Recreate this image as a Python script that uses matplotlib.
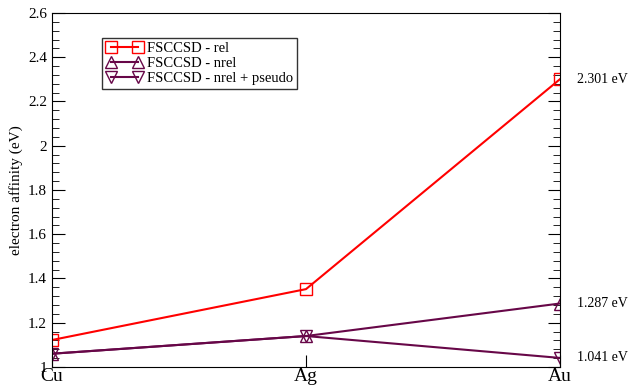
import matplotlib.pyplot as plt
from matplotlib.ticker import MultipleLocator, FuncFormatter

plt.rcParams['font.family'] = ['Liberation Serif', 'DejaVu Serif']

# data
metals = ["Cu", "Ag", "Au"]
rel = [1.122, 1.352, 2.301]
nrel = [1.060, 1.140, 1.287]
nrel_pseudo = [1.060, 1.140, 1.041]
labels = ["2.301 eV", "1.287 eV", "1.041 eV"]
label_vals = [2.301, 1.287, 1.041]

red = "#ff0000"
maroon = "#670748"

fig = plt.figure(figsize=(6.33, 3.89), dpi=100)
ax = fig.add_axes([52 / 633, 22 / 389, 508 / 633, 354 / 389])

x = range(len(metals))
ax.plot(x, rel, color=red, lw=1.5, marker="s", ms=8, mfc="none", mec=red, mew=1,
        label="FSCCSD - rel")
ax.plot(x, nrel, color=maroon, lw=1.5, marker="^", ms=9, mfc="none", mec=maroon, mew=1,
        label="FSCCSD - nrel")
ax.plot(x, nrel_pseudo, color=maroon, lw=1.5, marker="v", ms=9, mfc="none", mec=maroon, mew=1,
        label="FSCCSD - nrel + pseudo")

ax.set_xlim(0, 2)
ax.set_ylim(1, 2.6)
ax.set_xticks(list(x))
ax.set_xticklabels(metals, fontsize=14)
ax.yaxis.set_major_locator(MultipleLocator(0.2))
ax.yaxis.set_minor_locator(MultipleLocator(0.04))
ax.yaxis.set_major_formatter(FuncFormatter(lambda v, p: "%g" % round(v, 2)))
ax.tick_params(axis="y", which="both", direction="in", right=True, left=True, labelsize=11)
ax.tick_params(axis="y", which="major", length=9)
ax.tick_params(axis="y", which="minor", length=5)
ax.tick_params(axis="x", direction="in", length=9, pad=1)
ax.set_ylabel("electron affinity (eV)", fontsize=11, labelpad=4)

for v, t in zip(label_vals, labels):
    ax.annotate(t, xy=(2, v), xytext=(12, 0), textcoords="offset points",
                va="center", ha="left", fontsize=10, annotation_clip=False)

leg = ax.legend(loc="upper left", bbox_to_anchor=(0.098, 0.93), fontsize=10.5,
                frameon=True, fancybox=False, edgecolor="black", handlelength=2.5,
                numpoints=2, borderpad=0.3, labelspacing=0.1, handletextpad=0.3,
                borderaxespad=0)
leg.get_frame().set_linewidth(1)

fig.savefig("out.png", dpi=100)
